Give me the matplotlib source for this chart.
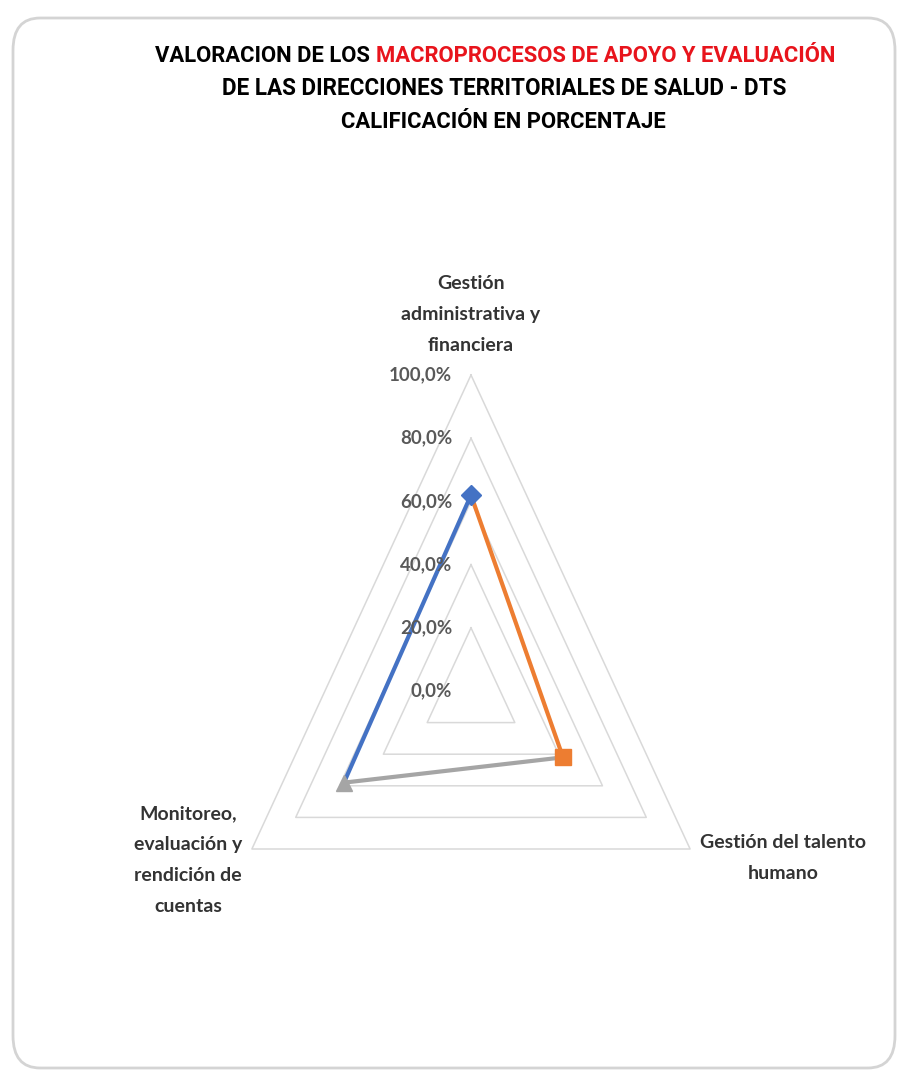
import numpy as np
import matplotlib
matplotlib.use("Agg")
import matplotlib.pyplot as plt
from matplotlib.patches import FancyBboxPatch

# datos de la grafica radar
categorias = ["Gestión\nadministrativa y\nfinanciera",
              "Gestión del talento\nhumano",
              "Monitoreo,\nevaluación y\nrendición de\ncuentas"]
valores = [0.62, 0.42, 0.58]
niveles = [0.0, 0.2, 0.4, 0.6, 0.8, 1.0]
etiquetas_niveles = ["0,0%", "20,0%", "40,0%", "60,0%", "80,0%", "100,0%"]
colores = ["#4472C4", "#ED7D31", "#A5A5A5"]
marcadores = ["D", "s", "^"]

titulo_negro = "VALORACION DE LOS "
titulo_rojo = "MACROPROCESOS DE APOYO Y EVALUACIÓN"
titulo_l2 = "DE LAS DIRECCIONES TERRITORIALES DE SALUD - DTS"
titulo_l3 = "CALIFICACIÓN EN PORCENTAJE"

W, H = 902, 1078
fig = plt.figure(figsize=(W / 100, H / 100), dpi=100)
fig.patch.set_facecolor("white")

# marco redondeado
marco = FancyBboxPatch((13 / W, 10 / H), (W - 20) / W, (H - 28) / H,
                       boxstyle="round,pad=0,rounding_size=0.03",
                       transform=fig.transFigure, facecolor="none",
                       edgecolor="#D4D4D4", lw=2, zorder=-1)
fig.patches.append(marco)

# ejes: 1 unidad x = 253 px, 1 unidad y = 316 px, centro en (471, 691)
sx, sy = 253.0, 316.0
cx, cy = 471.0, 691.0
x0, x1 = -1.2, 1.2
y0, y1 = -0.7, 1.1
ax = fig.add_axes([(cx + x0 * sx) / W, (H - cy + y0 * sy) / H,
                   (x1 - x0) * sx / W, (y1 - y0) * sy / H])
ax.set_xlim(x0, x1)
ax.set_ylim(y0, y1)
ax.axis("off")

n = len(categorias)
ang = np.array([np.pi / 2 - 2 * np.pi * i / n for i in range(n)])
ux, uy = np.cos(ang), np.sin(ang)

# rejilla triangular
for r in niveles[1:]:
    gx = np.append(r * ux, r * ux[0])
    gy = np.append(r * uy, r * uy[0])
    ax.plot(gx, gy, color="#D9D9D9", lw=1.1, zorder=1)

# etiquetas de nivel
for r, t in zip(niveles, etiquetas_niveles):
    ax.text(-0.075, r, t, ha="right", va="center", fontsize=13.5,
            color="#595959", family="Lato", fontweight="bold", zorder=4)

# segmentos coloreados por punto
px = np.array(valores) * ux
py = np.array(valores) * uy
for i in range(n):
    j = i - 1
    ax.plot([px[j], px[i]], [py[j], py[i]], color=colores[i], lw=3,
            solid_capstyle="round", zorder=2)
for i in range(n):
    ax.plot(px[i], py[i], marker=marcadores[i], color=colores[i],
            ms=[10, 11, 12][i], zorder=3, ls="none")

# etiquetas de categoria
pos_cat = [(0.0, 1.19), (1.233, -0.53), (-1.119, -0.535)]
for (tx, ty), c in zip(pos_cat, categorias):
    ax.text(tx, ty, c, ha="center", va="center", fontsize=14, color="#333333",
            family="Lato", fontweight="bold", linespacing=2.0, clip_on=False)

# titulo (tamaño ajustado al ancho de la primera linea, ~680 px)
kw = dict(fontweight="bold", family="Roboto")
r_ = fig.canvas.get_renderer()
t1 = fig.text(0, 0, titulo_negro, fontsize=20, **kw)
t2 = fig.text(0, 0, titulo_rojo, fontsize=20, color="#E8141C", **kw)
w_tot = t1.get_window_extent(r_).width + t2.get_window_extent(r_).width
fs_t = 20 * 680 / w_tot
t1.set_fontsize(fs_t)
t2.set_fontsize(fs_t)
w1 = t1.get_window_extent(r_).width
w2 = t2.get_window_extent(r_).width
xs = 495 - (w1 + w2) / 2
yl1 = 1 - 56 / H
t1.set_position((xs / W, yl1))
t1.set_va("center")
t2.set_position(((xs + w1) / W, yl1))
t2.set_va("center")
fig.text(504 / W, 1 - 89 / H, titulo_l2, ha="center", va="center",
         fontsize=fs_t * 1.02, **kw)
fig.text(503 / W, 1 - 122 / H, titulo_l3, ha="center", va="center",
         fontsize=fs_t, **kw)

fig.savefig("out.png", dpi=100, facecolor="white")
